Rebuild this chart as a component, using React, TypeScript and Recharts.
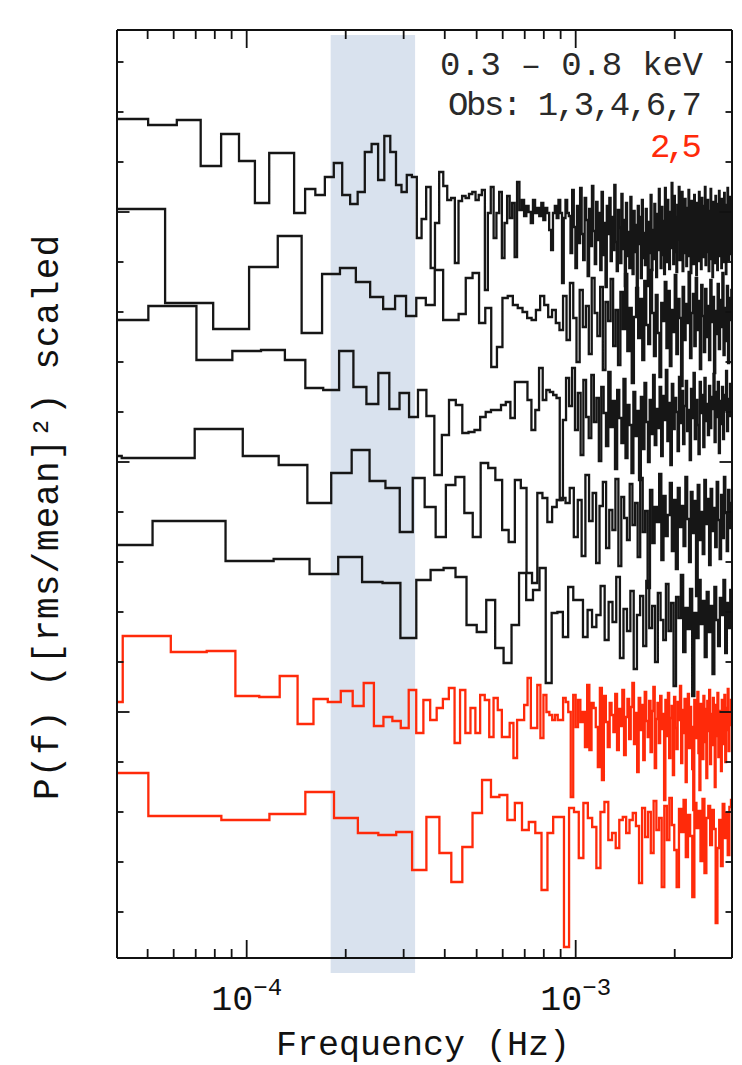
import { ComposedChart, Line, XAxis, YAxis, ReferenceArea } from 'recharts'

const W = 742
const H = 1065

// frequency range of the plot (Hz), log axis
const FMIN = 4.035e-5
const FMAX = 2.986e-3
const BAND_LO = 1.8e-4
const BAND_HI = 3.25e-4

const X_TICKS = [5e-5, 6e-5, 7e-5, 8e-5, 9e-5, 1e-4, 2e-4, 3e-4, 4e-4, 5e-4, 6e-4, 7e-4, 8e-4, 9e-4, 1e-3, 2e-3]
const Y_TICKS = [46, 96, 146, 196, 246, 296, 346, 396, 446, 496, 546, 596, 646, 696, 746, 796, 846, 896]
const Y_MAJOR = [246, 496, 746]
const Y_MAX = 928

const BLACK = '#161616'
const RED = '#ff2a0a'

// periodograms, one value per Fourier bin k*df (scaled + offset log power)
const OBS1_DF = 1.115e-5
const OBS1_K0 = 4
const OBS1_P = [
  839, 833, 838, 792, 824, 797, 755, 805, 805, 745, 769, 763, 781, 795, 763, 754, 766, 806, 814, 778,
  822, 806, 773, 766, 783, 781,
  720, 739, 771, 690, 735, 786, 772, 758, 760, 695, 757, 762, 760, 764, 766, 758, 763, 768, 668, 745,
  771, 720, 745, 766, 700, 735, 762, 740, 755, 701, 776, 748, 758, 742, 752, 746, 735, 758, 745, 750,
  742, 755, 738, 750, 745, 728, 708, 745, 752, 740, 758, 745, 675, 740, 758, 745,
  742, 705, 768, 731, 690, 752, 715, 770, 724, 698, 760, 738, 682, 749, 712, 772, 727, 694, 756, 718,
  745, 688, 766, 703, 735, 671, 752, 724, 760, 697, 741, 708, 773, 716, 687, 748, 730, 695, 764, 709,
  738, 672, 755, 702, 726, 690, 761, 719, 684, 747, 706, 733, 668, 752, 714, 741, 680, 758, 700, 725,
  693, 749, 712, 672, 736, 705, 763, 688, 728, 699, 754, 716, 681, 744, 708, 769, 722, 690, 751, 703,
  737, 684, 770, 715, 696, 758, 725, 689, 746, 710, 775, 732, 694, 762, 706, 741, 686, 753, 719, 771,
  698, 744, 713, 766, 687, 737, 705, 759, 721, 692, 750, 729, 768, 702, 734, 685, 757, 717, 748, 694,
  763, 711, 739, 683, 755, 724, 697, 766, 708, 742, 689, 760, 727, 701, 752, 715, 771, 693, 736, 706,
  758, 720, 687, 747, 712, 769, 699, 733, 681, 756, 723, 744, 695, 762, 710, 738, 688, 754, 717, 767,
  702, 741, 725, 690, 759, 713, 748, 696, 765, 720, 737, 684, 753, 709, 770, 727, 698, 745, 716, 761,
  704, 739,
]

const OBS3_DF = 2.26e-5
const OBS3_K0 = 2
const OBS3_P = [
  749, 655, 629, 691, 722, 625, 684, 690, 676, 661, 649, 662, 642,
  660, 653, 688, 638, 638, 644, 680, 685, 635, 650, 591, 611, 660, 662, 653, 650, 646, 640, 638, 648,
  662, 653, 641, 648, 635, 628,
  662, 618, 675, 640, 596, 668, 631, 652, 604, 680, 645, 622, 671, 588, 656, 637, 679, 612, 648, 593,
  666, 629, 684, 607, 650, 575, 641, 670, 620, 659, 598, 677, 633, 614, 688, 645, 602, 663, 625, 581,
  655, 637, 676, 610, 667, 592, 648, 626, 683, 604, 659, 640, 572, 671, 618, 654, 635, 686, 600, 645,
  664, 612, 680, 628, 657, 589, 673, 642, 606, 669, 621, 652, 598, 678, 636, 661, 585, 647, 624, 674,
  609, 658, 631, 685, 603, 650, 617, 672, 595, 660, 638, 668,
]

const OBS4_DF = 2.01e-5
const OBS4_K0 = 2
const OBS4_P = [
  638, 652, 598, 607, 608, 598, 570, 568, 607, 571, 554, 585, 549, 565, 541,
  568, 542, 483, 523, 558, 553, 525, 526, 528, 541, 546, 548, 548, 553, 556, 540, 576, 576, 576, 558,
  528, 548, 590, 558, 568, 566, 563, 560, 458, 538, 580,
  552, 590, 528, 565, 503, 578, 541, 520, 583, 536, 560, 497, 571, 545, 512, 586, 531, 557, 489, 568,
  540, 515, 579, 500, 553, 533, 485, 566, 522, 547, 478, 561, 509, 575, 536, 496, 558, 524, 583, 513,
  549, 530, 571, 502, 562, 538, 588, 517, 555, 493, 574, 529, 560, 546, 507, 581, 535, 567, 514, 552,
  577, 527, 548, 498, 569, 540, 585, 519, 558, 533, 504, 576, 545, 563, 511, 580, 537, 554, 523, 572,
  530, 561, 549, 584, 516, 566, 541, 576, 505, 557, 534, 571, 519, 563, 548, 587, 527, 559, 542, 574,
  551,
]

const OBS6_DF = 2.78e-5
const OBS6_K0 = 1
const OBS6_P = [
  502, 500, 529, 502, 493, 455, 485, 508, 477, 470, 426,
  480, 451, 421, 473, 481, 445, 421, 495, 490, 478, 428, 416, 478, 470, 385, 375, 465, 460, 436, 451,
  458, 460, 455,
  470, 421, 458, 402, 483, 437, 465, 395, 452, 476, 410, 448, 428, 479, 392, 461, 440, 418, 474, 433,
  455, 401, 480, 426, 447, 370, 468, 415, 451, 436, 484, 398, 462, 422, 443, 475, 407, 458, 389, 470,
  431, 452, 412, 481, 439, 396, 466, 425, 457, 362, 473, 418, 446, 404, 478, 434, 459, 393, 469, 427,
  450, 411, 476, 438, 399, 463, 420, 481, 445, 407, 468, 430, 455,
]

const OBS7_DF = 3.45e-5
const OBS7_K0 = 1
const OBS7_P = [
  413, 437, 397, 399, 384, 401, 376, 375, 320,
  378, 388, 390, 381, 333, 326, 358, 310, 295, 333, 385, 358, 368, 390, 275, 345, 346, 321, 371, 358,
  358, 321, 348, 331, 343,
  372, 318, 356, 336, 381, 300, 349, 327, 367, 289, 343, 362, 312, 377, 330, 352, 296, 365, 338, 318,
  374, 327, 355, 272, 361, 340, 383, 306, 350, 329, 369, 262, 345, 320, 378, 334, 357, 301, 366, 326,
  352, 284, 371, 338, 312, 360, 343, 378, 305, 355, 330, 368,
]

const OBS2_DF = 1.68e-5
const OBS2_K0 = 2
const OBS2_P = [
  256, 322, 306, 307, 262, 261, 282, 234, 259, 256, 267, 252, 275, 232, 241, 237, 230, 268,
  225, 258, 238, 250, 259, 270, 215, 268, 225, 250, 225, 263, 258, 221, 260, 248, 221, 221, 235, 200,
  238, 238, 253, 280, 230, 230, 273, 220, 263, 246, 243, 238, 243, 238, 238, 260, 256, 246, 161, 263,
  231, 258, 236, 246, 211, 273, 208, 255, 250, 231,
  191, 270, 178, 262, 236, 211, 255, 243, 226, 264, 208, 249, 232, 268, 203, 241, 259, 219, 251, 275,
  214, 245, 186, 260, 228, 253, 198, 266, 237, 221, 257, 206, 247, 271, 190, 239, 255, 215, 262, 229,
  244, 158, 258, 222, 265, 200, 240, 252, 183, 261, 230, 209, 256, 238, 272, 195, 248, 225, 259, 176,
  242, 264, 210, 251, 231, 189, 148, 258, 220, 246, 266, 205, 168, 254, 234, 199, 262, 216, 249, 180,
  257, 227, 268, 194, 244, 213, 260, 236, 171, 253, 222, 265, 201, 247, 230, 187, 258, 240, 214, 263,
  196, 250, 228, 269, 207, 245, 233, 258,
]

const OBS5_DF = 3.35e-5
const OBS5_K0 = 1
const OBS5_P = [
  185, 142, 138, 144, 166, 140, 125, 123, 126,
  88, 141, 105, 76, 111, 145, 178, 161, 163, 138, 155, 128, 136, 125, 68, 125, 141, 141, 11, 150,
  146, 100, 155, 140, 131, 90, 146, 156, 118, 125, 110, 138, 141, 125, 138,
  145, 132, 75, 150, 121, 146, 105, 157, 128, 140, 71, 152, 118, 160, 133, 108, 71, 149, 126, 158,
  101, 143, 122, 61, 155, 130, 147, 97, 159, 85, 140, 152, 113, 148, 129, 35, 110, 138, 92, 154,
  120, 145, 103, 151, 158,
]

// histogram steps: each bin drawn from its lower edge (k - 1/2) df to its upper edge
function toSteps(df: number, k0: number, vals: number[]) {
  const pts = vals.map((p, i) => ({ f: (k0 + i - 0.5) * df, p }))
  pts.push({ f: (k0 + vals.length - 0.5) * df, p: vals[vals.length - 1] })
  return pts
}

const SERIES = [
  { id: 'obs1', color: BLACK, data: toSteps(OBS1_DF, OBS1_K0, OBS1_P) },
  { id: 'obs3', color: BLACK, data: toSteps(OBS3_DF, OBS3_K0, OBS3_P) },
  { id: 'obs4', color: BLACK, data: toSteps(OBS4_DF, OBS4_K0, OBS4_P) },
  { id: 'obs6', color: BLACK, data: toSteps(OBS6_DF, OBS6_K0, OBS6_P) },
  { id: 'obs7', color: BLACK, data: toSteps(OBS7_DF, OBS7_K0, OBS7_P) },
  { id: 'obs2', color: RED, data: toSteps(OBS2_DF, OBS2_K0, OBS2_P) },
  { id: 'obs5', color: RED, data: toSteps(OBS5_DF, OBS5_K0, OBS5_P) },
]

const FONT = '"Liberation Mono", "DejaVu Sans Mono", monospace'
const AXIS = { stroke: '#111', strokeWidth: 2 }

const isDecade = (f: number) => Math.abs(Math.log10(f) - Math.round(Math.log10(f))) < 1e-6

function BottomTick(props: any) {
  const { x, y, payload } = props
  const major = isDecade(payload.value)
  return (
    <g>
      <line x1={x} x2={x} y1={y} y2={y - (major ? 18 : 9)} stroke="#111" strokeWidth={1.8} />
      {major && (
        <text x={x} y={y + 52} textAnchor="middle" fontFamily={FONT} fontSize={35} fill="#111">
          10
          <tspan dy={-15} fontSize={24}>{'\u2212' + Math.abs(Math.round(Math.log10(payload.value)))}</tspan>
        </text>
      )}
    </g>
  )
}

function TopTick(props: any) {
  const { x, y, payload } = props
  const major = isDecade(payload.value)
  return <line x1={x} x2={x} y1={y} y2={y + (major ? 18 : 9)} stroke="#111" strokeWidth={1.8} />
}

function LeftTick(props: any) {
  const { x, y, payload } = props
  const major = Y_MAJOR.includes(payload.value)
  return <line x1={x} x2={x + (major ? 12.5 : 6.5)} y1={y} y2={y} stroke="#111" strokeWidth={1.8} />
}

function RightTick(props: any) {
  const { x, y, payload } = props
  const major = Y_MAJOR.includes(payload.value)
  return <line x1={x} x2={x - (major ? 12.5 : 6.5)} y1={y} y2={y} stroke="#111" strokeWidth={1.8} />
}

// shaded QPO band, running slightly past the bottom frame
function Band(props: any) {
  const { x, y, width, height } = props
  return <rect x={x} y={y + 5} width={width} height={height + 10} fill="#d9e2ee" />
}

export default function App() {
  return (
    <div style={{ position: 'absolute', left: 0, top: 0, width: W, height: H, background: '#fff' }}>
      <ComposedChart width={W} height={H} margin={{ top: 29, right: 8, bottom: 0, left: 0 }}>
        <XAxis
          xAxisId="b"
          dataKey="f"
          type="number"
          scale="log"
          domain={[FMIN, FMAX]}
          allowDataOverflow
          ticks={X_TICKS}
          interval={0}
          tickSize={0}
          tickMargin={0}
          tickLine={false}
          tick={<BottomTick />}
          axisLine={AXIS}
          height={107}
        />
        <XAxis
          xAxisId="t"
          orientation="top"
          dataKey="f"
          type="number"
          scale="log"
          domain={[FMIN, FMAX]}
          allowDataOverflow
          ticks={X_TICKS}
          interval={0}
          tickSize={0}
          tickMargin={0}
          tickLine={false}
          tick={<TopTick />}
          axisLine={AXIS}
          height={1}
        />
        <YAxis
          yAxisId="l"
          type="number"
          domain={[0, Y_MAX]}
          allowDataOverflow
          ticks={Y_TICKS}
          interval={0}
          tickSize={0}
          tickMargin={0}
          tickLine={false}
          tick={<LeftTick />}
          axisLine={AXIS}
          width={117}
        />
        <YAxis
          yAxisId="r"
          orientation="right"
          type="number"
          domain={[0, Y_MAX]}
          allowDataOverflow
          ticks={Y_TICKS}
          interval={0}
          tickSize={0}
          tickMargin={0}
          tickLine={false}
          tick={<RightTick />}
          axisLine={AXIS}
          width={2}
        />
        <ReferenceArea xAxisId="b" yAxisId="l" x1={BAND_LO} x2={BAND_HI} shape={Band} ifOverflow="visible" />
        {SERIES.map((s) => (
          <Line
            key={s.id}
            xAxisId="b"
            yAxisId="l"
            data={s.data}
            dataKey="p"
            type="stepAfter"
            stroke={s.color}
            strokeWidth={2.3}
            dot={false}
            activeDot={false}
            isAnimationActive={false}
          />
        ))}
      </ComposedChart>
      <svg
        width={W}
        height={H}
        style={{ position: 'absolute', left: 0, top: 0, pointerEvents: 'none' }}
        fontFamily={FONT}
      >
        <text x={440} y={75} fontSize={34} fill="#2a2a2a" textLength={263} lengthAdjust="spacing">
          0.3 – 0.8 keV
        </text>
        <text x={448} y={115} fontSize={34} fill="#2a2a2a" textLength={254} lengthAdjust="spacing">
          Obs: 1,3,4,6,7
        </text>
        <text x={650} y={157} fontSize={34} fill={RED} textLength={52} lengthAdjust="spacing">
          2,5
        </text>
        <text x={276} y={1055} fontSize={35} fill="#111" textLength={294} lengthAdjust="spacing">
          Frequency (Hz)
        </text>
        <text
          transform="translate(58,800) rotate(-90)"
          fontSize={36}
          fill="#111"
          textLength={565}
          lengthAdjust="spacing"
        >
          P(f) ([rms/mean]²) scaled
        </text>
      </svg>
    </div>
  )
}
